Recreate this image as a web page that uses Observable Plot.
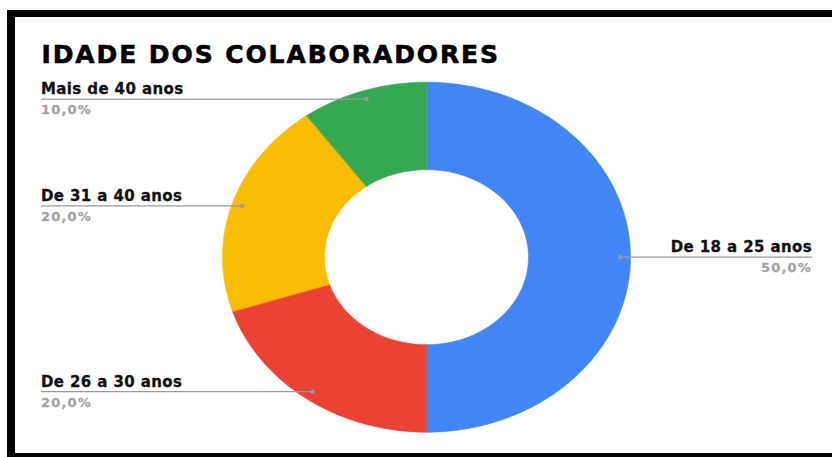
<!DOCTYPE html>
<html><head><meta charset="utf-8">
<script src="https://cdn.jsdelivr.net/npm/d3@7"></script>
<script src="https://cdn.jsdelivr.net/npm/@observablehq/plot@0.6"></script>
<style>
html,body{margin:0;padding:0;background:#fff;}
#wrap{position:relative;width:832px;height:457px;overflow:hidden;background:#fff;}
.b{position:absolute;background:#000;}
</style></head><body>
<div id="wrap"><div id="chart"></div>
<div class="b" style="left:7px;top:10px;width:825px;height:7px"></div>
<div class="b" style="left:7px;top:10px;width:8px;height:447px"></div>
<div class="b" style="left:7px;top:453px;width:825px;height:4px"></div>
</div>
<script>
const title = "IDADE DOS COLABORADORES";
const categories = ["De 18 a 25 anos", "De 26 a 30 anos", "De 31 a 40 anos", "Mais de 40 anos"];
const values = [50, 20, 20, 10];
const percentLabels = ["50,0%", "20,0%", "20,0%", "10,0%"];
const colors = ["#4285F4", "#EA4335", "#FBBC04", "#34A853"];

const total = d3.sum(values);
const inner = 0.5, dotR = 0.95, labelX = 1.89;
let acc = 0;
const slices = values.map((v, i) => {
  const a0 = acc / total * 2 * Math.PI;
  acc += v;
  const a1 = acc / total * 2 * Math.PI;
  const n = Math.max(8, Math.ceil((a1 - a0) / (2 * Math.PI) * 240));
  const pts = [];
  for (let k = 0; k <= n; k++) { const a = a0 + (a1 - a0) * k / n; pts.push({x: Math.sin(a), y: -Math.cos(a)}); }
  for (let k = n; k >= 0; k--) { const a = a0 + (a1 - a0) * k / n; pts.push({x: inner * Math.sin(a), y: -inner * Math.cos(a)}); }
  const am = (a0 + a1) / 2;
  const dx = dotR * Math.sin(am), dy = -dotR * Math.cos(am);
  return {pts, color: colors[i], cat: categories[i], pct: percentLabels[i], dx, dy, lx: dx >= 0 ? labelX : -labelX, side: dx >= 0 ? 1 : -1};
});

const font = "DejaVu Sans";
const textMarks = (side) => [
  Plot.text(slices, {filter: d => d.side === side, x: "lx", y: "dy", text: "cat", textAnchor: side > 0 ? "end" : "start", lineAnchor: "bottom", dy: -5, fontFamily: font, fontWeight: "bold", fontSize: 15, fill: "#111", stroke: "#111", strokeWidth: 0.3}),
  Plot.text(slices, {filter: d => d.side === side, x: "lx", y: "dy", text: "pct", textAnchor: side > 0 ? "end" : "start", lineAnchor: "bottom", dy: 15, fontFamily: font, fontWeight: "bold", fontSize: 13, fill: "#a3a3a3", stroke: "#a3a3a3", strokeWidth: 0.3})
];

const chart = Plot.plot({
  width: 832, height: 457,
  marginTop: 0, marginRight: 0, marginBottom: 0, marginLeft: 0,
  x: {domain: [-1, 1], range: [222, 630], axis: null},
  y: {domain: [-1, 1], range: [81.7, 431.7], axis: null},
  style: {background: "#fff"},
  marks: [
    ...slices.map(s => Plot.line(s.pts, {x: "x", y: "y", curve: "linear-closed", fill: s.color, stroke: s.color, strokeWidth: 0.6})),
    Plot.link(slices, {x1: "dx", y1: "dy", x2: "lx", y2: "dy", stroke: "#9a9a9a", strokeWidth: 1.3}),
    Plot.dot(slices, {x: "dx", y: "dy", r: 2.2, fill: "#9a9a9a", stroke: null}),
    ...textMarks(-1),
    ...textMarks(1),
    Plot.text([title], {frameAnchor: "top-left", dx: 41, dy: 62, text: d => d, textAnchor: "start", lineAnchor: "bottom", fontFamily: font, fontWeight: "bold", fontSize: 25, fill: "#000", stroke: "#000", strokeWidth: 0.6})
  ]
});
const sel = d3.select(chart);
sel.selectAll("g[font-size='25'] text").style("letter-spacing", "1.9px");
sel.selectAll("g[font-size='15'] text").style("letter-spacing", "0.4px");
sel.selectAll("g[font-size='13'] text").style("letter-spacing", "1.2px");
document.getElementById("chart").appendChild(chart);
</script>
</body></html>
